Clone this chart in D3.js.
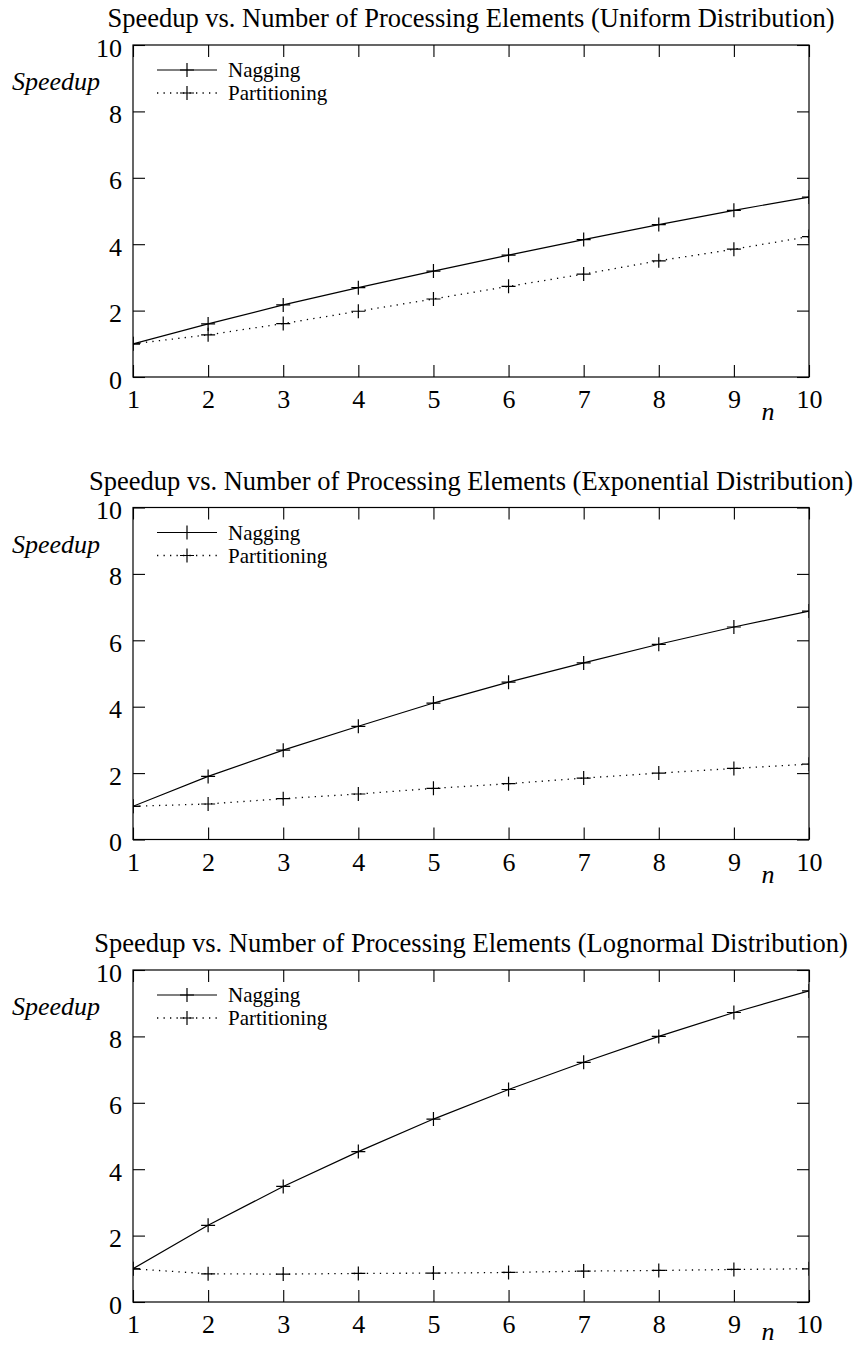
<!DOCTYPE html>
<html>
<head>
<meta charset="utf-8">
<script src="https://cdn.jsdelivr.net/npm/d3@7"></script>
<style>
  html, body { margin: 0; padding: 0; background: #fff; }
  svg { display: block; }
  text { font-family: "Liberation Serif", "Times New Roman", serif; fill: #000; }
</style>
</head>
<body>
<svg id="chart" width="856" height="1348"></svg>
<script>
// ---- data ----
const nValues = [1, 2, 3, 4, 5, 6, 7, 8, 9, 10];
const yTickValues = [0, 2, 4, 6, 8, 10];
const seriesNames = ["Nagging", "Partitioning"];
const chartTitles = [
  "Speedup vs. Number of Processing Elements (Uniform Distribution)",
  "Speedup vs. Number of Processing Elements (Exponential Distribution)",
  "Speedup vs. Number of Processing Elements (Lognormal Distribution)"
];
const uniformNagging = [1.0, 1.60, 2.17, 2.69, 3.19, 3.67, 4.14, 4.59, 5.02, 5.42];
const uniformPartitioning = [1.0, 1.27, 1.61, 1.98, 2.35, 2.73, 3.10, 3.50, 3.85, 4.23];
const exponentialNagging = [1.0, 1.90, 2.69, 3.41, 4.11, 4.74, 5.32, 5.88, 6.40, 6.88];
const exponentialPartitioning = [1.0, 1.07, 1.23, 1.37, 1.54, 1.68, 1.85, 2.00, 2.14, 2.27];
const lognormalNagging = [1.0, 2.31, 3.48, 4.53, 5.51, 6.40, 7.22, 8.00, 8.72, 9.37];
const lognormalPartitioning = [1.0, 0.85, 0.84, 0.86, 0.87, 0.89, 0.93, 0.95, 0.98, 1.00];

const chartsData = [
  [uniformNagging, uniformPartitioning],
  [exponentialNagging, exponentialPartitioning],
  [lognormalNagging, lognormalPartitioning]
];

// ---- layout ----
const svg = d3.select("#chart");
const left = 133, right = 809;
const plotH = 332;
const firstTop = 45, chartStep = 462.5;
const dashes = [null, "1.3,5.2"];
const tickLen = 12;

const x = d3.scaleLinear().domain([1, 10]).range([left, right]);

chartsData.forEach((series, ci) => {
  const top = firstTop + ci * chartStep;
  const bottom = top + plotH;
  const y = d3.scaleLinear().domain([0, 10]).range([bottom, top]);
  const g = svg.append("g");

  const clipId = "clip" + ci;
  svg.append("clipPath").attr("id", clipId)
    .append("rect").attr("x", left).attr("y", top - 1)
    .attr("width", right - left).attr("height", plotH + 2);

  // title
  g.append("text")
    .attr("x", (left + right) / 2).attr("y", top - 18)
    .attr("text-anchor", "middle")
    .style("font-size", "26.5px")
    .text(chartTitles[ci]);

  // axes
  const bAx = g.append("g").attr("transform", `translate(0,${bottom})`)
    .call(d3.axisBottom(x).tickValues(nValues).tickSizeInner(-tickLen).tickSizeOuter(0).tickFormat(d3.format("d")));
  bAx.selectAll("text").attr("y", 31).attr("dy", null).style("font-size", "26px");
  const tAx = g.append("g").attr("transform", `translate(0,${top})`)
    .call(d3.axisTop(x).tickValues(nValues).tickSizeInner(-tickLen).tickSizeOuter(0).tickFormat(""));
  const lAx = g.append("g").attr("transform", `translate(${left},0)`)
    .call(d3.axisLeft(y).tickValues(yTickValues).tickSizeInner(-tickLen).tickSizeOuter(0).tickFormat(d3.format("d")));
  lAx.selectAll("text").attr("x", -11).attr("dy", null).attr("y", 11).style("font-size", "26px");
  const rAx = g.append("g").attr("transform", `translate(${right},0)`)
    .call(d3.axisRight(y).tickValues(yTickValues).tickSizeInner(-tickLen).tickSizeOuter(0).tickFormat(""));
  [bAx, tAx, lAx, rAx].forEach(a => {
    a.select(".domain").remove();
    a.selectAll("line").attr("stroke", "#000").attr("stroke-width", 1.1);
    a.attr("font-family", null).attr("font-size", null);
  });

  // frame
  g.append("rect").attr("x", left).attr("y", top)
    .attr("width", right - left).attr("height", plotH)
    .attr("fill", "none").attr("stroke", "#000").attr("stroke-width", 1.2);

  // axis labels
  g.append("text").attr("x", 12).attr("y", top + 45)
    .style("font-size", "26px").style("font-style", "italic").text("Speedup");
  g.append("text").attr("x", x(9) + 34).attr("y", Math.min(bottom + 43, 1340))
    .attr("text-anchor", "middle")
    .style("font-size", "26px").style("font-style", "italic").text("n");

  // series
  const line = d3.line().x((d, i) => x(nValues[i])).y(d => y(d));
  const plotG = g.append("g").attr("clip-path", `url(#${clipId})`);
  series.forEach((vals, si) => {
    plotG.append("path").datum(vals)
      .attr("d", line).attr("fill", "none").attr("stroke", "#000")
      .attr("stroke-width", si === 0 ? 1.2 : 1.3)
      .attr("stroke-dasharray", dashes[si]);
    plotG.selectAll(null).data(vals).enter().append("path")
      .attr("d", (d, i) => {
        const cx = x(nValues[i]), cy = y(d), r = 7;
        return `M${cx - r},${cy}H${cx + r}M${cx},${cy - r}V${cy + r}`;
      })
      .attr("stroke", "#000").attr("stroke-width", 1.2).attr("fill", "none");
  });

  // legend
  seriesNames.forEach((name, si) => {
    const ly = top + 25 + si * 23;
    g.append("line").attr("x1", 157).attr("x2", 217).attr("y1", ly).attr("y2", ly)
      .attr("stroke", "#000").attr("stroke-width", si === 0 ? 1.2 : 1.3)
      .attr("stroke-dasharray", dashes[si]);
    g.append("path").attr("d", `M${187 - 7},${ly}H${187 + 7}M${187},${ly - 7}V${ly + 7}`)
      .attr("stroke", "#000").attr("stroke-width", 1.2);
    g.append("text").attr("x", 228).attr("y", ly + 7)
      .style("font-size", "21px").text(name);
  });
});
</script>
</body>
</html>
